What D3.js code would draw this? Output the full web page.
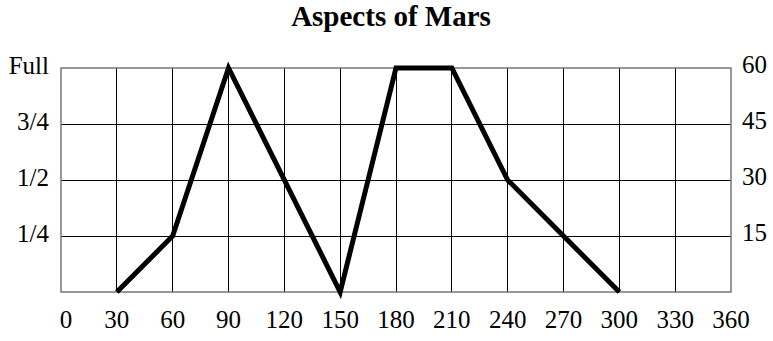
<!DOCTYPE html>
<html>
<head>
<meta charset="utf-8">
<script src="https://cdn.jsdelivr.net/npm/d3@7"></script>
<style>
  html, body { margin: 0; padding: 0; background: #fff; }
  svg { display: block; }
  text { font-family: "Liberation Serif", "Times New Roman", serif; fill: #000; }
</style>
</head>
<body>
<svg id="chart" width="773" height="341"></svg>
<script>
// Degrees of separation between Mars and the Sun, and the apparent aspect (0..60)
const angles = [30, 60, 90, 150, 180, 210, 240, 300];
const aspect = [0, 15, 60, 0, 60, 60, 30, 0];

// Axis ticks
const xTicks = [0, 30, 60, 90, 120, 150, 180, 210, 240, 270, 300, 330, 360];
const yTicks = [15, 30, 45, 60];
const leftLabels = ["1/4", "1/2", "3/4", "Full"];
const rightLabels = ["15", "30", "45", "60"];

const svg = d3.select("#chart");
const plot = { left: 61, right: 731, top: 68, bottom: 292 };

const x = d3.scaleLinear().domain([0, 360]).range([plot.left, plot.right]);
const y = d3.scaleLinear().domain([0, 60]).range([plot.bottom, plot.top]);

// Title
svg.append("text")
  .attr("x", 391).attr("y", 26)
  .attr("text-anchor", "middle")
  .attr("font-size", 29).attr("font-weight", "bold")
  .text("Aspects of Mars");

// Grid: vertical lines every 30 degrees
svg.append("g").selectAll("line")
  .data(xTicks.slice(1, -1))
  .join("line")
  .attr("x1", d => x(d)).attr("x2", d => x(d))
  .attr("y1", plot.top).attr("y2", plot.bottom)
  .attr("stroke", "#000").attr("stroke-width", 1)
  .attr("shape-rendering", "crispEdges");

// Grid: horizontal lines at quarter phases
svg.append("g").selectAll("line")
  .data(yTicks.slice(0, -1))
  .join("line")
  .attr("x1", plot.left).attr("x2", plot.right)
  .attr("y1", d => y(d)).attr("y2", d => y(d))
  .attr("stroke", "#000").attr("stroke-width", 1)
  .attr("shape-rendering", "crispEdges");

// Frame
svg.append("rect")
  .attr("x", plot.left).attr("y", plot.top)
  .attr("width", plot.right - plot.left)
  .attr("height", plot.bottom - plot.top)
  .attr("fill", "none")
  .attr("stroke", "#777").attr("stroke-width", 1.5);

// Left phase labels
svg.append("g").selectAll("text")
  .data(yTicks)
  .join("text")
  .attr("x", 49).attr("y", d => y(d) + 6)
  .attr("text-anchor", "end")
  .attr("font-size", 25)
  .text((d, i) => leftLabels[i]);

// Right value labels
svg.append("g").selectAll("text")
  .data(yTicks)
  .join("text")
  .attr("x", 742).attr("y", d => y(d) + 5)
  .attr("text-anchor", "start")
  .attr("font-size", 25)
  .text((d, i) => rightLabels[i]);

// Bottom degree labels
svg.append("g").selectAll("text")
  .data(xTicks)
  .join("text")
  .attr("x", d => x(d) + (d === 0 ? 5 : 0))
  .attr("y", 328)
  .attr("text-anchor", "middle")
  .attr("font-size", 25)
  .text(d => d);

// Aspect curve
const line = d3.line()
  .x((d, i) => x(angles[i]))
  .y(d => y(d));

svg.append("path")
  .datum(aspect)
  .attr("d", line)
  .attr("fill", "none")
  .attr("stroke", "#000")
  .attr("stroke-width", 5)
  .attr("stroke-linejoin", "miter")
  .attr("stroke-miterlimit", 10);
</script>
</body>
</html>
